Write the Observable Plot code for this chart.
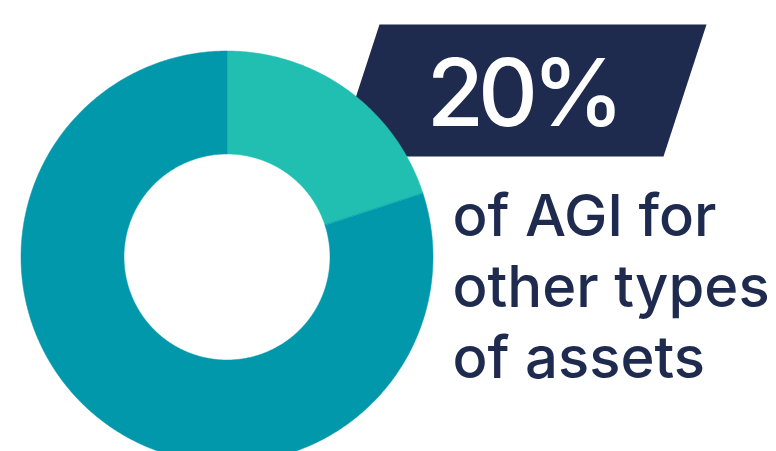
<!DOCTYPE html>
<html><head><meta charset="utf-8">
<script src="https://cdn.jsdelivr.net/npm/d3@7"></script>
<script src="https://cdn.jsdelivr.net/npm/@observablehq/plot@0.6"></script>
<style>html,body{margin:0;padding:0;background:#fff;overflow:hidden}</style>
</head><body><div id="chart"></div>
<script>
// Data
const categories = ["Other types of assets", "Remaining AGI"];
const shares = [20, 80];
const headline = "20%";
const captionLines = ["of AGI for", "other types", "of assets"];

const colors = {"Other types of assets": "#20bfb1", "Remaining AGI": "#0298ac"};

// Layout (pixels)
const W = 776, H = 451;
const cx = 226.5, cy = 256.5, rOuter = 206, rInner = 103;

// Build donut ring polygons from shares
const total = d3.sum(shares);
let acc = 0;
const ringPts = [];
categories.forEach((c, i) => {
  const a0 = acc / total * 2 * Math.PI;
  acc += shares[i];
  const a1 = acc / total * 2 * Math.PI;
  const n = Math.max(8, Math.ceil((a1 - a0) / 0.01));
  const pts = [];
  for (let k = 0; k <= n; k++) { const a = a0 + (a1 - a0) * k / n; pts.push([cx + rOuter * Math.sin(a), cy - rOuter * Math.cos(a)]); }
  for (let k = n; k >= 0; k--) { const a = a0 + (a1 - a0) * k / n; pts.push([cx + rInner * Math.sin(a), cy - rInner * Math.cos(a)]); }
  pts.forEach(([x, y], j) => ringPts.push({cat: c, x, y, j}));
});

// Banner parallelogram
const banner = [
  {x: 379, y: 24}, {x: 706, y: 24}, {x: 663, y: 156}, {x: 336, y: 156}
];

const chart = Plot.plot({
  width: W, height: H,
  margin: 0,
  x: {domain: [0, W], range: [0, W], axis: null},
  y: {domain: [0, H], range: [0, H], axis: null},
  color: {domain: categories, range: categories.map(c => colors[c])},
  marks: [
    Plot.line(banner, {x: "x", y: "y", fill: "#1e2b4f", stroke: "none", curve: "linear-closed"}),
    Plot.line(ringPts, {x: "x", y: "y", z: "cat", fill: "cat", stroke: "cat", strokeWidth: 0.5, curve: "linear-closed"}),
    Plot.text([headline], {x: [522], y: [125], text: d => d, fill: "white", fontSize: 93, fontWeight: 500, lineAnchor: "bottom", textAnchor: "middle", fontFamily: "Inter"}),
    Plot.text(captionLines, {x: [452, 452, 452], y: [235, 306, 377], text: d => d, fill: "#1e2b4f", fontSize: 58, fontWeight: 500, lineAnchor: "bottom", textAnchor: "start", fontFamily: "Inter"})
  ]
});
chart.querySelectorAll("text").forEach(t => { if (t.textContent === headline) t.setAttribute("letter-spacing", "-6"); });
document.getElementById("chart").appendChild(chart);
</script>
</body></html>
